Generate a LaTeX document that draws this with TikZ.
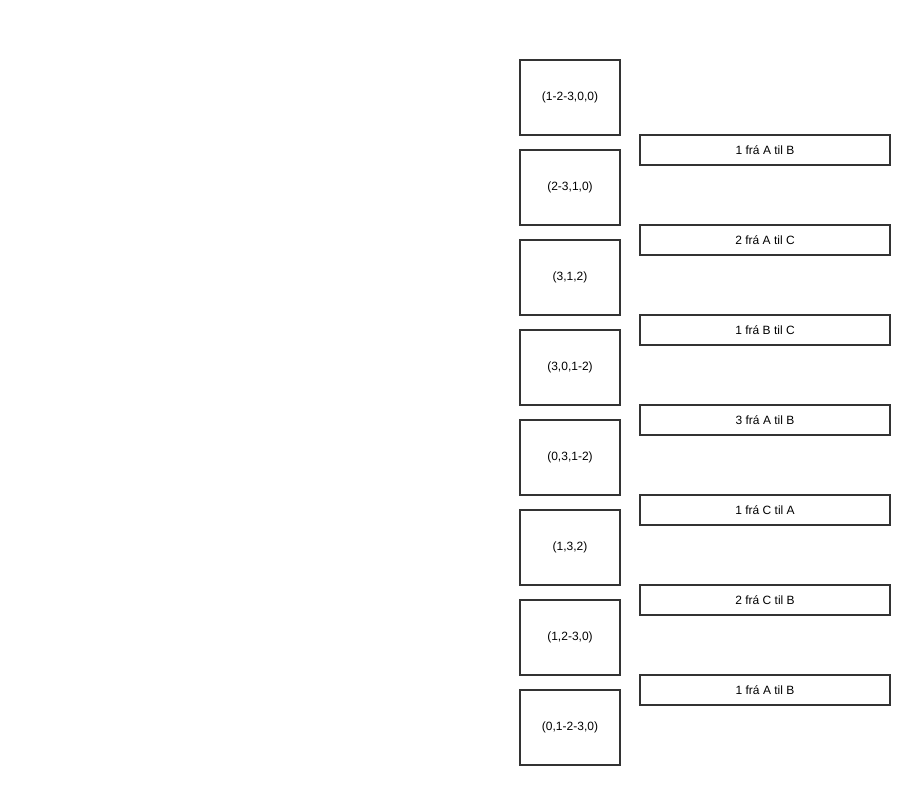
\documentclass[tikz,border=0pt]{standalone}
\usepackage{fontspec}
\setmainfont{Liberation Sans}
\usepackage{tikz}
\usetikzlibrary{positioning}

\begin{document}
\begin{tikzpicture}[
    x=0.75pt, y=-0.75pt,
    font=\fontsize{9pt}{11pt}\selectfont,
    state/.style={draw=black!80, line width=1.5pt, align=center, inner sep=0pt, minimum width=75pt, minimum height=56.25pt},
    move/.style={draw=black!80, line width=1.5pt, align=center, inner sep=0pt, minimum width=187.5pt, minimum height=22.5pt}
]
\useasboundingbox (0,0) rectangle (910,785);

\node[state] (s1) at (570,97.5) {(1-2-3,0,0)};
\node[state] (s2) at (570,187.5) {(2-3,1,0)};
\node[state] (s3) at (570,277.5) {(3,1,2)};
\node[state] (s4) at (570,367.5) {(3,0,1-2)};
\node[state] (s5) at (570,457.5) {(0,3,1-2)};
\node[state] (s6) at (570,547.5) {(1,3,2)};
\node[state] (s7) at (570,637.5) {(1,2-3,0)};
\node[state] (s8) at (570,727.5) {(0,1-2-3,0)};

\node[move] (m1) at (765,150) {1 frá A til B};
\node[move] (m2) at (765,240) {2 frá A til C};
\node[move] (m3) at (765,330) {1 frá B til C};
\node[move] (m4) at (765,420) {3 frá A til B};
\node[move] (m5) at (765,510) {1 frá C til A};
\node[move] (m6) at (765,600) {2 frá C til B};
\node[move] (m7) at (765,690) {1 frá A til B};
\end{tikzpicture}
\end{document}
